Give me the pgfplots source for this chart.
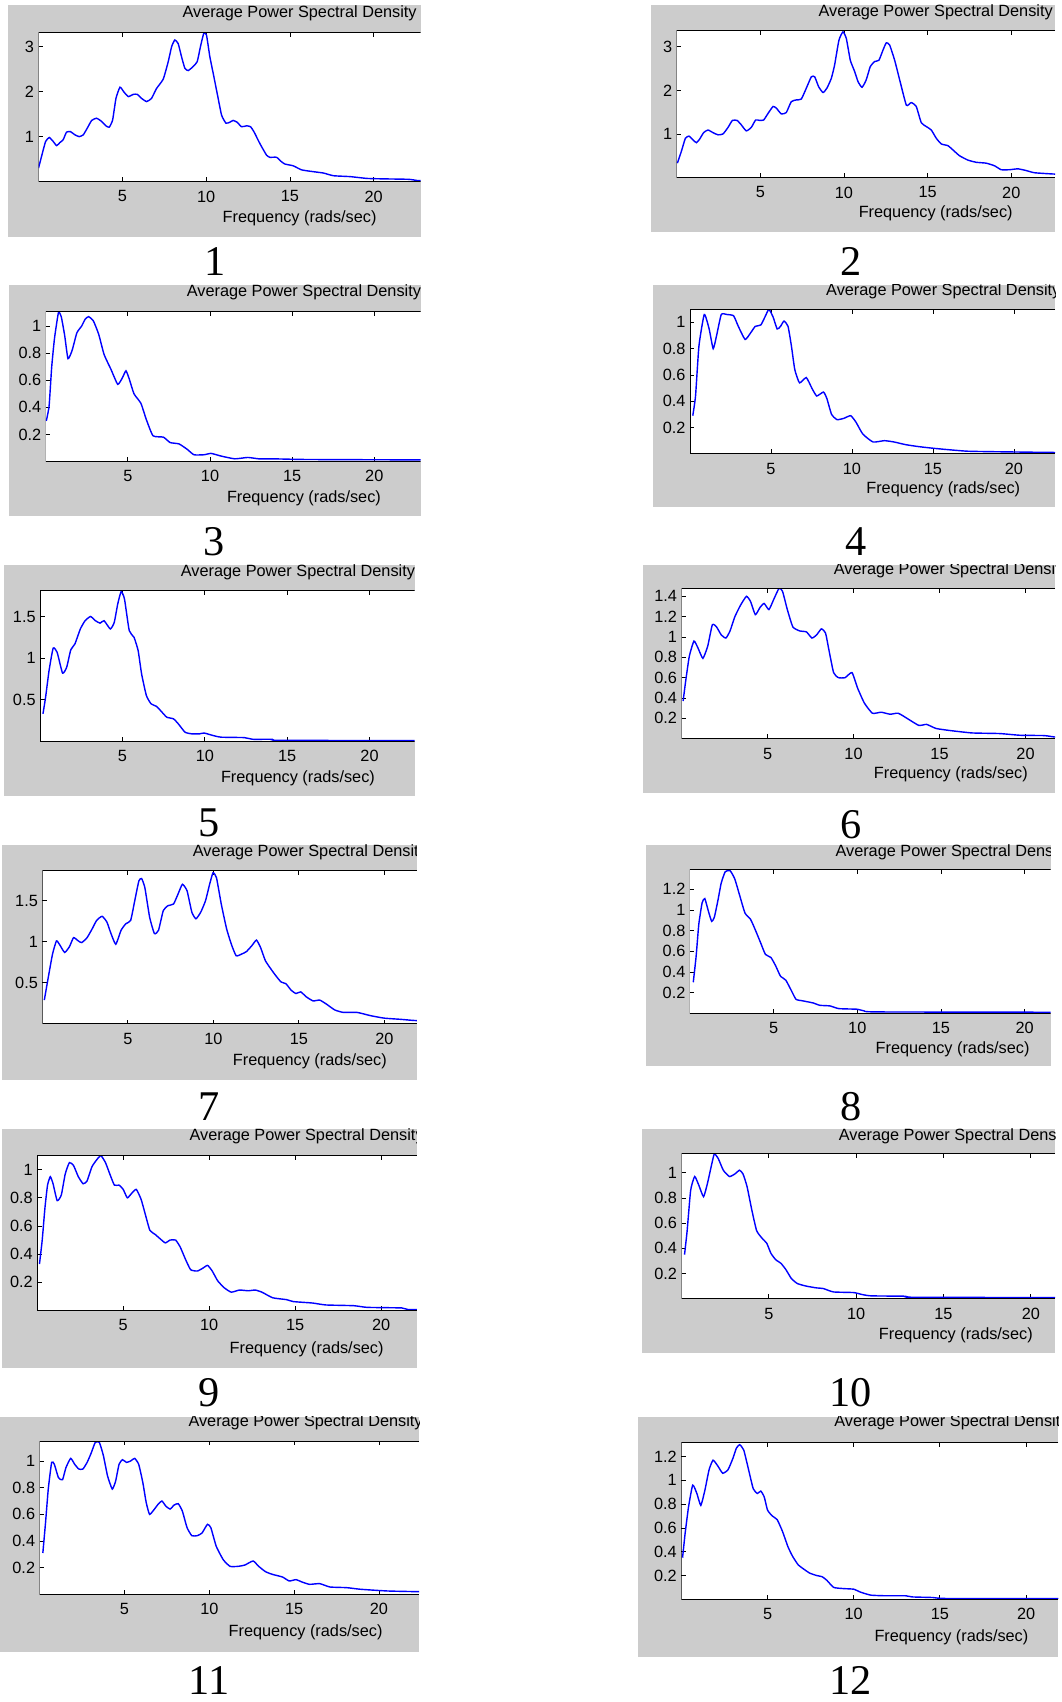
\documentclass[border=0pt]{standalone}
\usepackage{fontspec}
\setmainfont{Liberation Sans}
\newfontfamily\tnr{Liberation Serif}
\usepackage{pgfplots}
\pgfplotsset{compat=1.18}
\definecolor{mgray}{RGB}{204,204,204}
\pgfplotsset{psd/.style={
  scale only axis, anchor=south west,
  xmin=0, ymin=0,
  tick align=inside, xtick={5,10,15,20}, ytick pos=left,
  major tick length=4pt,
  axis line style={draw=none},
  every tick/.style={black, line width=0.8pt},
  axis background/.style={fill=white},
  font=\fontsize{15}{18}\selectfont,
  /pgf/number format/assume math mode=true,
  xticklabel style={anchor=center, yshift=-13.7pt, inner sep=0pt},
  yticklabel style={anchor=east, inner sep=0pt, xshift=-4pt},
  every axis plot post/.append style={color=blue, line width=1.3pt, mark=none, smooth, tension=0.3},
}}
\newcommand{\frameaxis}{\draw[line width=1pt] (rel axis cs:1,1) -- (rel axis cs:0,1) -- (rel axis cs:0,0) -- (rel axis cs:1,0);}
\tikzset{lab/.style={font=\fontsize{15}{18}\selectfont, inner sep=0pt, anchor=center}}
\newcommand{\num}[3]{\node[font=\tnr\fontsize{39}{39}\selectfont, inner sep=0pt] at (#1,#2) {#3};}
\newcommand{\decor}[7]{%
  \begin{scope}\clip (#1,#2) rectangle (#3,#4);
  \node[lab] at (#5,#6) {Average Power Spectral Density};
  \end{scope}
  \node[lab] at (#5,#7) {Frequency (rads/sec)};}
\begin{document}
\begin{tikzpicture}[x=1pt,y=1pt]
\coordinate (a1) at (35.5,1400.7);
\coordinate (a2) at (623.4,1404.4);
\coordinate (a3) at (42.2,1142.8);
\coordinate (a4) at (635.7,1149.9);
\coordinate (a5) at (37,885);
\coordinate (a6) at (627.9,887.5);
\coordinate (a7) at (39.1,624.7);
\coordinate (a8) at (635.6,634.5);
\coordinate (a9) at (34.3,360.7);
\coordinate (a10) at (627.9,371.5);
\coordinate (a11) at (36.5,99.2);
\coordinate (a12) at (627.7,94.6);
% ---------- 1
\fill[mgray] (7.7,1350) rectangle (387.4,1563.4);
\begin{axis}[psd, at={(a1)}, width=351.9pt, height=137.5pt, xmax=22.79, ymax=3.32, ytick={1,2,3}]
\addplot coordinates {(0,0.30)(0.18,0.56)(0.42,0.89)(0.64,0.98)(0.88,0.89)(1.08,0.80)(1.28,0.87)(1.47,0.93)(1.67,1.10)(1.91,1.11)(2.17,1.04)(2.43,1.00)(2.67,1.04)(2.91,1.19)(3.17,1.36)(3.46,1.41)(3.72,1.35)(4.02,1.24)(4.22,1.21)(4.42,1.37)(4.62,1.85)(4.86,2.10)(5.10,1.99)(5.36,1.89)(5.65,1.94)(5.89,1.94)(6.15,1.85)(6.45,1.78)(6.74,1.85)(7.04,2.07)(7.44,2.28)(7.74,2.67)(7.94,3.00)(8.13,3.15)(8.33,3.07)(8.53,2.78)(8.73,2.52)(8.93,2.47)(9.23,2.56)(9.47,2.67)(9.66,3.00)(9.86,3.30)(10.02,3.26)(10.22,2.78)(10.42,2.41)(10.66,1.96)(10.92,1.48)(11.18,1.30)(11.41,1.32)(11.61,1.36)(11.85,1.32)(12.11,1.22)(12.41,1.24)(12.65,1.22)(12.85,1.11)(13.2,0.85)(13.6,0.59)(13.8,0.54)(14.2,0.54)(14.5,0.44)(14.7,0.39)(15.2,0.35)(15.7,0.26)(16.4,0.22)(17.0,0.19)(17.6,0.13)(18.6,0.11)(19.6,0.07)(20.6,0.06)(22.1,0.05)(22.7,0.02)(24,0.02)};
\frameaxis
\end{axis}
\decor{7.7}{1350}{387.4}{1563.4}{276}{1555.7}{1367.2}
\num{198}{1327}{1}
% ---------- 2
\fill[mgray] (599.5,1354.6) rectangle (972,1563.4);
\begin{axis}[psd, at={(a2)}, width=348.6pt, height=135.4pt, xmax=22.62, ymax=3.37, ytick={1,2,3}]
\addplot coordinates {(0.04,0.33)(0.28,0.60)(0.52,0.90)(0.74,0.95)(0.98,0.86)(1.18,0.80)(1.37,0.88)(1.61,1.03)(1.87,1.09)(2.17,1.03)(2.47,0.98)(2.77,1.00)(3.07,1.15)(3.33,1.31)(3.61,1.31)(3.86,1.21)(4.16,1.07)(4.46,1.15)(4.72,1.32)(4.96,1.31)(5.20,1.32)(5.46,1.47)(5.76,1.63)(5.96,1.59)(6.25,1.46)(6.55,1.49)(6.85,1.74)(7.15,1.78)(7.45,1.80)(7.75,2.05)(8.05,2.31)(8.25,2.31)(8.49,2.08)(8.75,1.95)(8.98,2.05)(9.24,2.27)(9.44,2.58)(9.70,3.15)(9.94,3.34)(10.14,3.19)(10.38,2.69)(10.64,2.43)(10.84,2.20)(11.08,2.07)(11.33,2.24)(11.57,2.54)(11.83,2.66)(12.09,2.69)(12.33,2.92)(12.53,3.09)(12.73,3.04)(13.03,2.69)(13.33,2.24)(13.73,1.66)(14.02,1.72)(14.32,1.63)(14.62,1.26)(14.92,1.17)(15.22,1.09)(15.52,0.90)(15.82,0.77)(16.22,0.73)(16.61,0.60)(16.91,0.50)(17.41,0.40)(17.91,0.35)(18.5,0.33)(19.0,0.27)(19.4,0.18)(19.9,0.18)(20.4,0.20)(20.9,0.16)(21.4,0.11)(22.6,0.08)(24,0.07)};
\frameaxis
\end{axis}
\decor{599.5}{1354.6}{972}{1563.4}{862}{1556.3}{1371.5}
\num{784}{1327}{2}
% ---------- 3
\fill[mgray] (8.1,1092.2) rectangle (387.5,1305.5);
\begin{axis}[psd, at={(a3)}, width=345.3pt, height=138.2pt, xmax=22.82, ymax=1.108, ytick={0.2,0.4,0.6,0.8,1}]
\addplot coordinates {(0.03,0.30)(0.2,0.41)(0.36,0.70)(0.53,0.91)(0.77,1.10)(0.94,1.07)(1.15,0.93)(1.35,0.76)(1.60,0.82)(1.89,0.95)(2.18,1.00)(2.39,1.05)(2.60,1.07)(2.89,1.04)(3.22,0.94)(3.55,0.79)(3.97,0.68)(4.38,0.57)(4.67,0.62)(4.88,0.67)(5.08,0.61)(5.37,0.50)(5.79,0.43)(6.12,0.31)(6.53,0.19)(7.16,0.18)(7.57,0.14)(8.11,0.13)(8.61,0.09)(9.02,0.05)(9.64,0.05)(10.06,0.06)(10.68,0.04)(11.51,0.02)(12.3,0.03)(12.96,0.02)(13.8,0.02)(15.9,0.015)(22.9,0.012)(24,0.012)};
\frameaxis
\end{axis}
\decor{8.1}{1092.2}{387.5}{1305.5}{280}{1298.5}{1109.1}
\num{197.5}{1069.2}{3}
% ---------- 4
\fill[mgray] (601.8,1100.5) rectangle (972,1305.5);
\begin{axis}[psd, at={(a4)}, width=336.3pt, height=133.2pt, xmax=22.54, ymax=1.10, ytick={0.2,0.4,0.6,0.8,1}]
\addplot coordinates {(0.17,0.29)(0.34,0.44)(0.55,0.82)(0.88,1.06)(1.18,0.95)(1.43,0.80)(1.64,0.90)(1.93,1.06)(2.27,1.06)(2.69,1.05)(2.98,0.97)(3.40,0.87)(3.74,0.92)(4.03,0.97)(4.37,0.98)(4.66,1.05)(4.87,1.10)(5.13,1.04)(5.38,0.95)(5.59,0.97)(5.80,1.01)(6.05,0.97)(6.26,0.82)(6.47,0.64)(6.76,0.54)(7.18,0.58)(7.52,0.50)(7.82,0.44)(8.24,0.47)(8.45,0.42)(8.74,0.30)(9.08,0.26)(9.50,0.27)(9.92,0.29)(10.25,0.24)(10.67,0.15)(11.30,0.09)(12.0,0.10)(12.6,0.09)(13.3,0.07)(14.1,0.055)(15.2,0.04)(17.1,0.02)(19.4,0.015)(22.7,0.01)(24,0.01)};
\frameaxis
\end{axis}
\decor{601.8}{1100.5}{972}{1305.5}{869}{1299.4}{1116.8}
\num{788.6}{1069.2}{4}
% ---------- 5
\fill[mgray] (3.8,834.3) rectangle (382,1047.7);
\begin{axis}[psd, at={(a5)}, width=345pt, height=138.8pt, xmax=22.74, ymax=1.81, ytick={0.5,1,1.5}]
\addplot coordinates {(0.17,0.33)(0.33,0.53)(0.54,0.85)(0.79,1.12)(1.03,1.07)(1.36,0.82)(1.61,0.89)(1.86,1.10)(2.11,1.17)(2.44,1.35)(2.73,1.45)(3.06,1.50)(3.35,1.45)(3.64,1.42)(3.88,1.45)(4.26,1.35)(4.50,1.43)(4.71,1.65)(4.92,1.80)(5.12,1.71)(5.41,1.33)(5.70,1.25)(5.95,1.09)(6.16,0.81)(6.45,0.55)(6.74,0.45)(7.07,0.42)(7.40,0.35)(7.69,0.29)(8.10,0.27)(8.39,0.21)(8.80,0.11)(9.21,0.09)(9.67,0.09)(9.96,0.10)(10.5,0.07)(11.0,0.05)(12.4,0.045)(12.9,0.025)(14.1,0.025)(14.5,0.012)(22.8,0.01)(24,0.01)};
\frameaxis
\end{axis}
\decor{3.8}{834.3}{382}{1047.7}{274.5}{1040.6}{851.2}
\num{192.5}{809.8}{5}
% ---------- 6
\fill[mgray] (592.4,837.4) rectangle (972,1047.7);
\begin{axis}[psd, at={(a6)}, width=344.1pt, height=138.4pt, xmax=21.72, ymax=1.478, ytick={0.2,0.4,0.6,0.8,1,1.2,1.4}]
\addplot coordinates {(0.09,0.37)(0.25,0.58)(0.45,0.81)(0.72,0.96)(0.96,0.89)(1.24,0.79)(1.52,0.91)(1.79,1.12)(2.03,1.10)(2.31,1.02)(2.58,0.99)(2.82,1.06)(3.10,1.20)(3.42,1.31)(3.77,1.40)(4.01,1.35)(4.29,1.22)(4.56,1.29)(4.80,1.33)(5.08,1.27)(5.36,1.37)(5.67,1.48)(5.87,1.45)(6.15,1.27)(6.47,1.10)(6.86,1.06)(7.26,1.05)(7.58,0.99)(7.85,1.02)(8.13,1.08)(8.37,1.04)(8.56,0.88)(8.84,0.65)(9.12,0.60)(9.51,0.60)(9.91,0.65)(10.23,0.50)(10.63,0.35)(11.10,0.25)(11.61,0.26)(12.13,0.24)(12.6,0.25)(13.2,0.19)(13.8,0.13)(14.25,0.14)(14.8,0.10)(15.6,0.08)(16.9,0.056)(18.5,0.05)(19.7,0.033)(21.1,0.03)(21.9,0.013)(24,0.013)};
\frameaxis
\end{axis}
\decor{592.4}{837.4}{972}{1047.7}{876}{1042.5}{854.3}
\num{783.7}{808.3}{6}
% ---------- 7
\fill[mgray] (1.9,572.8) rectangle (384,789.8);
\begin{axis}[psd, at={(a7)}, width=344.9pt, height=141.5pt, xmax=21.9, ymax=1.87, ytick={0.5,1,1.5}]
\addplot coordinates {(0.11,0.29)(0.31,0.53)(0.59,0.85)(0.82,1.01)(1.02,0.96)(1.30,0.87)(1.58,0.94)(1.82,1.05)(2.10,1.01)(2.30,0.99)(2.61,1.05)(2.89,1.15)(3.17,1.26)(3.49,1.31)(3.77,1.24)(4.01,1.10)(4.29,0.97)(4.60,1.14)(4.88,1.22)(5.16,1.26)(5.40,1.50)(5.64,1.74)(5.80,1.77)(5.99,1.66)(6.27,1.30)(6.55,1.10)(6.79,1.14)(7.07,1.38)(7.35,1.44)(7.67,1.46)(7.95,1.59)(8.19,1.70)(8.46,1.62)(8.74,1.36)(8.98,1.28)(9.26,1.36)(9.54,1.50)(9.78,1.70)(9.98,1.84)(10.18,1.78)(10.46,1.46)(10.77,1.16)(11.05,0.97)(11.33,0.83)(11.65,0.85)(11.93,0.88)(12.24,0.95)(12.52,1.02)(12.76,0.93)(13.04,0.77)(13.36,0.67)(13.64,0.59)(13.96,0.51)(14.24,0.49)(14.55,0.41)(14.83,0.37)(15.11,0.39)(15.43,0.33)(15.83,0.28)(16.22,0.29)(16.62,0.24)(17.1,0.17)(17.6,0.14)(18.4,0.14)(19.2,0.10)(20.0,0.07)(21.0,0.055)(21.9,0.04)(24,0.035)};
\frameaxis
\end{axis}
\decor{1.9}{572.8}{384}{789.8}{285.5}{782.8}{590.3}
\num{192.5}{548.9}{7}
% ---------- 8
\fill[mgray] (595.5,585.7) rectangle (968,789.8);
\begin{axis}[psd, at={(a8)}, width=332.4pt, height=132.3pt, xmax=21.56, ymax=1.39, ytick={0.2,0.4,0.6,0.8,1,1.2}]
\addplot coordinates {(0.2,0.30)(0.37,0.55)(0.53,0.86)(0.73,1.07)(0.89,1.11)(1.10,0.99)(1.30,0.89)(1.46,0.93)(1.67,1.09)(1.87,1.26)(2.11,1.37)(2.40,1.38)(2.68,1.30)(3.01,1.12)(3.29,0.97)(3.62,0.91)(3.90,0.81)(4.23,0.68)(4.51,0.57)(4.84,0.54)(5.12,0.46)(5.41,0.36)(5.73,0.32)(6.06,0.22)(6.34,0.135)(6.75,0.12)(7.36,0.10)(7.76,0.077)(8.37,0.071)(8.9,0.045)(10.0,0.039)(10.4,0.023)(11.2,0.013)(21.8,0.01)(24,0.01)};
\frameaxis
\end{axis}
\decor{595.5}{585.7}{968}{789.8}{877.6}{782.8}{601.7}
\num{783.7}{548.9}{8}
% ---------- 9
\fill[mgray] (1.9,307.9) rectangle (384,528.3);
\begin{axis}[psd, at={(a9)}, width=349.7pt, height=142.7pt, xmax=22.08, ymax=1.10, ytick={0.2,0.4,0.6,0.8,1}]
\addplot coordinates {(0.13,0.33)(0.29,0.50)(0.45,0.73)(0.60,0.89)(0.76,0.95)(0.92,0.90)(1.16,0.78)(1.40,0.82)(1.63,0.97)(1.87,1.05)(2.11,1.03)(2.39,0.95)(2.67,0.90)(2.90,0.92)(3.18,1.02)(3.46,1.07)(3.70,1.10)(3.97,1.05)(4.25,0.96)(4.49,0.89)(4.76,0.89)(5.00,0.86)(5.24,0.80)(5.48,0.83)(5.76,0.86)(6.04,0.79)(6.27,0.69)(6.55,0.57)(6.86,0.54)(7.14,0.51)(7.45,0.48)(7.73,0.50)(8.05,0.50)(8.32,0.45)(8.60,0.37)(8.92,0.29)(9.31,0.28)(9.63,0.30)(9.91,0.32)(10.18,0.28)(10.50,0.21)(10.89,0.16)(11.29,0.13)(11.76,0.145)(12.28,0.14)(12.68,0.145)(13.07,0.13)(13.7,0.09)(14.5,0.077)(14.9,0.063)(16.0,0.053)(16.8,0.039)(18.4,0.034)(19.2,0.022)(21.2,0.018)(21.6,0.006)(24,0.006)};
\frameaxis
\end{axis}
\decor{1.9}{307.9}{384}{528.3}{282.5}{521.2}{324.8}
\num{192.5}{284.9}{9}
% ---------- 10
\fill[mgray] (591.2,321.7) rectangle (972,528.3);
\begin{axis}[psd, at={(a10)}, width=344.1pt, height=133.5pt, xmax=21.39, ymax=1.15, ytick={0.2,0.4,0.6,0.8,1}]
\addplot coordinates {(0.17,0.35)(0.32,0.54)(0.52,0.86)(0.75,0.97)(0.99,0.90)(1.26,0.81)(1.49,0.92)(1.73,1.07)(1.88,1.15)(2.11,1.11)(2.39,1.02)(2.74,0.97)(3.05,0.99)(3.32,1.02)(3.52,0.99)(3.75,0.89)(4.03,0.70)(4.30,0.54)(4.61,0.48)(4.88,0.44)(5.12,0.36)(5.39,0.31)(5.70,0.28)(5.98,0.23)(6.29,0.16)(6.64,0.12)(7.15,0.10)(7.73,0.086)(8.12,0.081)(8.70,0.054)(9.87,0.049)(10.26,0.036)(10.84,0.023)(12.8,0.02)(13.2,0.012)(21.6,0.009)(24,0.009)};
\frameaxis
\end{axis}
\decor{591.2}{321.7}{972}{528.3}{880.6}{521.2}{338}
\num{783.7}{284.9}{10}
% ---------- 11
\fill[mgray] (0,46.1) rectangle (386.2,262.8);
\begin{axis}[psd, at={(a11)}, width=349.7pt, height=141.2pt, xmax=22.37, ymax=1.15, ytick={0.2,0.4,0.6,0.8,1}]
\addplot coordinates {(0.19,0.31)(0.35,0.54)(0.51,0.79)(0.71,0.99)(0.87,0.975)(1.11,0.875)(1.35,0.86)(1.55,0.95)(1.83,1.02)(2.07,0.975)(2.31,0.94)(2.55,0.94)(2.80,0.99)(3.04,1.06)(3.28,1.14)(3.52,1.14)(3.76,1.04)(4.00,0.89)(4.28,0.79)(4.48,0.85)(4.68,0.975)(4.88,1.01)(5.12,0.99)(5.36,1.00)(5.60,1.02)(5.84,0.975)(6.08,0.84)(6.28,0.69)(6.48,0.60)(6.77,0.64)(7.01,0.68)(7.21,0.70)(7.45,0.66)(7.69,0.64)(7.93,0.67)(8.17,0.68)(8.41,0.625)(8.69,0.50)(8.97,0.44)(9.29,0.44)(9.57,0.46)(9.89,0.525)(10.09,0.50)(10.41,0.36)(10.82,0.26)(11.22,0.21)(11.70,0.21)(12.10,0.22)(12.58,0.25)(12.91,0.21)(13.31,0.17)(13.71,0.15)(14.31,0.13)(14.71,0.10)(15.11,0.11)(15.51,0.09)(15.91,0.075)(16.51,0.08)(17.11,0.055)(18.1,0.05)(18.9,0.038)(20.5,0.025)(22.3,0.02)(24,0.02)};
\frameaxis
\end{axis}
\decor{0}{46.1}{386.2}{262.8}{281.5}{257.9}{64.5}
\num{192.5}{19.4}{11}
% ---------- 12
\fill[mgray] (588,41.5) rectangle (975,262.8);
\begin{axis}[psd, at={(a12)}, width=347.3pt, height=144.3pt, xmax=21.87, ymax=1.317, ytick={0.2,0.4,0.6,0.8,1,1.2}]
\addplot coordinates {(0.07,0.35)(0.22,0.555)(0.42,0.78)(0.66,0.96)(0.90,0.89)(1.13,0.79)(1.37,0.92)(1.61,1.09)(1.84,1.17)(2.12,1.12)(2.40,1.06)(2.71,1.09)(2.99,1.185)(3.19,1.27)(3.38,1.30)(3.62,1.255)(3.90,1.09)(4.17,0.93)(4.41,0.89)(4.61,0.91)(4.81,0.86)(5.00,0.75)(5.28,0.70)(5.56,0.67)(5.87,0.57)(6.19,0.44)(6.46,0.36)(6.78,0.29)(7.14,0.25)(7.45,0.22)(7.85,0.20)(8.17,0.19)(8.44,0.16)(8.84,0.10)(9.43,0.09)(10.0,0.085)(10.4,0.06)(10.99,0.035)(11.8,0.03)(13.0,0.03)(13.4,0.02)(14.6,0.015)(15.4,0.007)(22.1,0.007)(24,0.007)};
\frameaxis
\end{axis}
\decor{588}{41.5}{975}{262.8}{876.5}{257.3}{59.3}
\num{783.7}{19.4}{12}
\pgfresetboundingbox
\useasboundingbox (0,0) rectangle (978,1568);
\end{tikzpicture}
\end{document}
